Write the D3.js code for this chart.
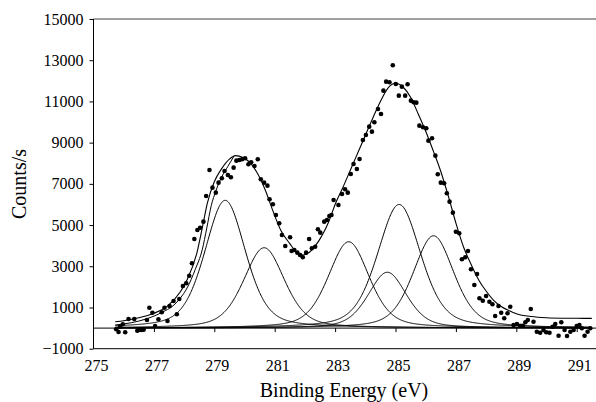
<!DOCTYPE html>
<html>
<head>
<meta charset="utf-8">
<title>C 1s spectrum fit</title>
<script src="https://cdn.jsdelivr.net/npm/d3@7/dist/d3.min.js"></script>
<style>
  body { margin: 0; background: #fff; }
  svg text { font-family: "Liberation Serif", "Times New Roman", serif; fill: #000; }
</style>
</head>
<body>
<svg id="chart" width="596" height="402"></svg>
<script>
// measured points (binding energy in eV, counts/s)
const dataEnergy = [275.75, 275.83, 275.88, 275.97, 276.05, 276.16, 276.35, 276.45, 276.49, 276.58,
  276.66, 276.77, 276.85, 276.95, 277.04, 277.15, 277.26, 277.35, 277.45, 277.52,
  277.65, 277.76, 277.84, 277.96, 278.07, 278.17, 278.26, 278.34, 278.44, 278.53,
  278.64, 278.73, 278.84, 278.94, 279.05, 279.14, 279.25, 279.34, 279.45, 279.55,
  279.64, 279.73, 279.83, 279.92, 280.02, 280.13, 280.22, 280.33, 280.44, 280.54,
  280.65, 280.76, 280.83, 280.94, 281.04, 281.15, 281.24, 281.35, 281.51, 281.56,
  281.65, 281.75, 281.84, 281.93, 282.04, 282.14, 282.23, 282.34, 282.43, 282.51,
  282.64, 282.73, 282.81, 282.88, 282.95, 283.11, 283.23, 283.33, 283.42, 283.52,
  283.61, 283.72, 283.81, 283.92, 284.02, 284.13, 284.22, 284.30, 284.42, 284.52,
  284.60, 284.69, 284.80, 284.91, 285.01, 285.11, 285.21, 285.32, 285.40, 285.51,
  285.60, 285.69, 285.79, 285.91, 286.02, 286.09, 286.21, 286.32, 286.40, 286.50,
  286.61, 286.70, 286.79, 286.90, 287.00, 287.11, 287.20, 287.31, 287.40, 287.50,
  287.61, 287.70, 287.78, 287.89, 288.00, 288.11, 288.21, 288.30, 288.41, 288.50,
  288.60, 288.71, 288.80, 288.91, 289.02, 289.13, 289.22, 289.30, 289.38, 289.48,
  289.57, 289.68, 289.79, 289.90, 289.99, 290.10, 290.20, 290.29, 290.40, 290.49,
  290.60, 290.68, 290.79, 290.90, 291.00, 291.09, 291.17, 291.26, 291.36, 291.45];
const dataCounts = [-58, -190, 68, 184, -204, 442, 442, -126, -92, -92,
  -78, 393, 990, 748, 102, 427, 767, 990, 345, 1073,
  1315, 670, 1412, 2043, 2175, 2543, 3145, 4325, 4762, 4873,
  5165, 6412, 7674, 6815, 6572, 7058, 7271, 7626, 7432, 7320,
  7786, 8126, 8160, 8194, 8242, 7951, 8048, 7868, 8194, 7223,
  7058, 6912, 6252, 6009, 5490, 5087, 4519, 3985, 4407, 3742,
  3791, 3660, 3548, 3437, 3660, 4325, 3873, 3951, 4796, 4631,
  5165, 5247, 5441, 5490, 6218, 5975, 6509, 6737, 6572, 7480,
  7966, 7723, 8208, 9130, 9373, 9776, 9533, 9989, 10635, 10392,
  11523, 11960, 11931, 12756, 11849, 11281, 11718, 11281, 11834, 11038,
  10960, 10941, 9824, 9747, 9698, 9096, 9213, 8368, 7466, 7058,
  7029, 6543, 6135, 5602, 4679, 4602, 3340, 3437, 3742, 2854,
  2092, 2626, 1446, 1330, 1558, 1281, 1155, 587, 1073, 748,
  476, 718, 1039, 150, 199, 117, 117, 282, 393, 927,
  311, -175, -223, -92, -204, -223, 68, 199, -369, 282,
  -92, -383, -175, -92, 102, 150, -10, -369, -175, -10];

// fitted envelope
const fitEnergy = [275.72, 276.0, 276.5, 277.0, 277.43, 277.87, 278.1, 278.42, 278.6, 278.77,
  279.0, 279.25, 279.5, 279.7, 279.95, 280.2, 280.45, 280.7, 280.95, 281.2,
  281.5, 281.75, 281.95, 282.15, 282.35, 282.55, 282.8, 283.0, 283.25, 283.5,
  283.75, 284.0, 284.25, 284.5, 284.75, 285.0, 285.25, 285.5, 285.75, 286.0,
  286.25, 286.5, 286.75, 287.0, 287.25, 287.5, 287.75, 288.0, 288.25, 288.5,
  288.75, 289.0, 289.5, 290.0, 290.5, 291.0, 291.5];
const fitCounts = [310, 360, 500, 720, 1040, 1750, 2350, 3630, 4850, 6060,
  7100, 7750, 8200, 8370, 8280, 8000, 7450, 6650, 5650, 4750,
  4100, 3650, 3550, 3680, 4000, 4450, 5200, 6000, 6800, 7650,
  8500, 9350, 10200, 11000, 11650, 11880, 11700, 11200, 10400, 9550,
  8600, 7600, 6400, 5100, 3950, 3100, 2350, 1800, 1350, 1050,
  850, 700, 560, 500, 480, 475, 470];

// second fit line on the low energy side
const innerEnergy = [275.72, 276.0, 276.5, 277.0, 277.3, 277.6, 277.87, 278.1, 278.37, 278.6,
  278.75, 278.9, 279.05, 279.25, 279.45, 279.65];
const innerCounts = [150, 200, 340, 580, 790, 1040, 1450, 1950, 2850, 3800,
  4850, 5950, 6650, 7350, 7850, 8340];

// component peaks (centre eV, height counts/s, FWHM eV)
const peakCenter = [279.36, 280.65, 283.45, 284.73, 285.12, 286.26];
const peakHeight = [6200, 3900, 4190, 2710, 6000, 4480];
const peakFwhm = [1.6, 1.6, 1.6, 1.5, 1.7, 1.6];
const peakLorentz = 0.4;

const xTicks = [275, 277, 279, 281, 283, 285, 287, 289, 291];
const yTicks = [-1000, 1000, 3000, 5000, 7000, 9000, 11000, 13000, 15000];

const svg = d3.select("#chart");
const plotLeft = 93.5, plotRight = 596, plotTop = 19, plotBottom = 348.7;

const x = d3.scaleLinear().domain([275, 291.5]).range([plotLeft, plotLeft + 16.5 * 30.2]);
const y = d3.scaleLinear().domain([-1000, 15000]).range([plotBottom, plotTop]);

// frame
svg.append("line").attr("x1", plotLeft).attr("x2", plotRight).attr("y1", plotTop).attr("y2", plotTop)
  .attr("stroke", "#808080").attr("stroke-width", 1.3);
svg.append("line").attr("x1", plotLeft).attr("x2", plotRight).attr("y1", plotBottom).attr("y2", plotBottom)
  .attr("stroke", "#000").attr("stroke-width", 1);

// y axis
const yAxis = svg.append("g").attr("transform", `translate(${plotLeft},0)`)
  .call(d3.axisLeft(y).tickValues(yTicks).tickSize(4).tickPadding(6).tickFormat(d3.format("d")));
yAxis.select(".domain").attr("d", `M0,${plotTop}V${plotBottom}`).attr("stroke", "#000");
yAxis.selectAll("text").style("font-size", "16px").style("font-family", "Liberation Serif");

// x axis sits on the zero line, labels along the bottom
const xAxis = svg.append("g").attr("transform", `translate(0,${y(0)})`)
  .call(d3.axisBottom(x).tickValues(xTicks.slice(1)).tickSize(4).tickFormat(""));
xAxis.select(".domain").remove();
svg.append("line").attr("x1", plotLeft).attr("x2", plotRight).attr("y1", y(0)).attr("y2", y(0))
  .attr("stroke", "#000").attr("stroke-width", 1);

svg.append("g").selectAll("text").data(xTicks).join("text")
  .attr("x", d => x(d) + 3).attr("y", 371)
  .attr("text-anchor", "middle").style("font-size", "16px")
  .text(d => d);

svg.append("text").attr("x", 344).attr("y", 397).attr("text-anchor", "middle")
  .style("font-size", "20px").text("Binding Energy (eV)");
svg.append("text").attr("transform", "translate(26,184) rotate(-90)")
  .attr("text-anchor", "middle").style("font-size", "20px").text("Counts/s");

// component curves
const grid = d3.range(275.72, 291.5, 0.02);
const line = d3.line().x(d => x(d[0])).y(d => y(d[1]));
peakCenter.forEach((c, i) => {
  const w = peakFwhm[i], h = peakHeight[i];
  const pts = grid.map(e => {
    const t = (e - c) / w;
    return [e, h * ((1 - peakLorentz) * Math.exp(-4 * Math.LN2 * t * t) + peakLorentz / (1 + 4 * t * t))];
  });
  svg.append("path").attr("d", line(pts)).attr("fill", "none")
    .attr("stroke", "#000").attr("stroke-width", 1);
});

const smooth = d3.line().x(d => x(d[0])).y(d => y(d[1])).curve(d3.curveMonotoneX);
svg.append("path").attr("d", smooth(d3.zip(fitEnergy, fitCounts)))
  .attr("fill", "none").attr("stroke", "#000").attr("stroke-width", 1.1);
svg.append("path").attr("d", smooth(d3.zip(innerEnergy, innerCounts)))
  .attr("fill", "none").attr("stroke", "#000").attr("stroke-width", 1);

svg.append("g").selectAll("circle").data(d3.zip(dataEnergy, dataCounts)).join("circle")
  .attr("cx", d => x(d[0])).attr("cy", d => y(d[1])).attr("r", 2.3).attr("fill", "#000");
</script>
</body>
</html>
